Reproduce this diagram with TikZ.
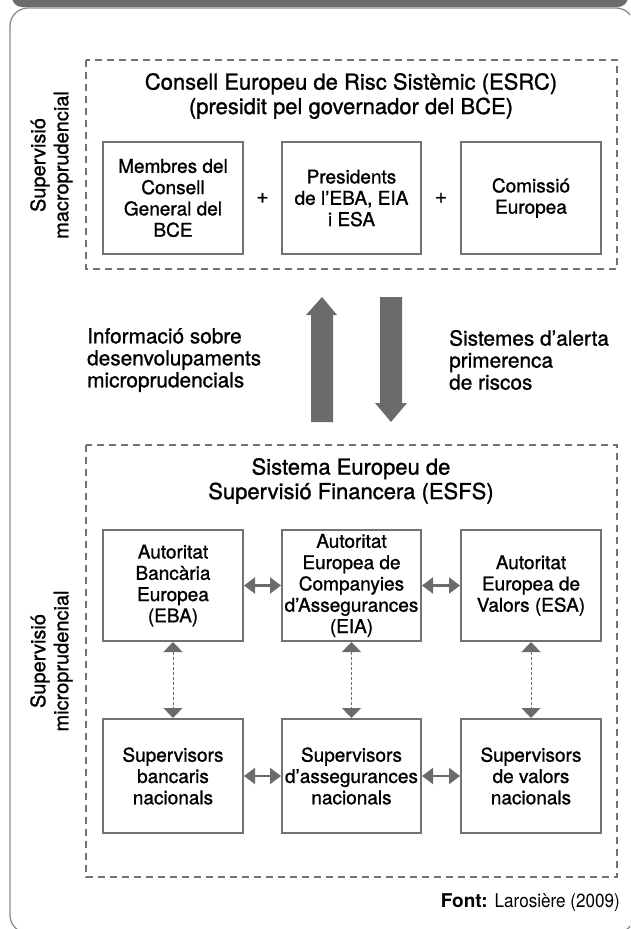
\documentclass[tikz,border=0pt]{standalone}
\usepackage{fontspec}
\setmainfont{TeX Gyre Heros}[FakeBold=1.1]
\newfontfamily\condfont[FakeStretch=0.9]{TeX Gyre Heros}
\newfontfamily\boldfont{TeX Gyre Heros Bold}
\usetikzlibrary{arrows.meta}
\definecolor{bandgray}{HTML}{6B6B6B}
\definecolor{linegray}{HTML}{727272}
\definecolor{framegray}{HTML}{8C8C8C}
\definecolor{arrowgray}{HTML}{6B6B6B}
\begin{document}
\begin{tikzpicture}[x=1pt,y=-1pt,
  box/.style={draw=linegray, line width=2pt, minimum width=140pt, align=center, inner sep=0pt,
    font=\fontsize{19}{21.3}\selectfont},
  dashbox/.style={draw=linegray, line width=2pt, dash pattern=on 7pt off 5pt},
  plainlabel/.style={inner sep=0pt, font=\fontsize{20.8}{22}\selectfont},
  titlelabel/.style={inner sep=0pt, align=center, font=\fontsize{22}{24.5}\selectfont},
  sidelabel/.style={inner sep=0pt, align=center, rotate=90, font=\fontsize{20}{23}\selectfont},
  harrow/.style={draw=arrowgray, line width=2.2pt, {Triangle[length=11pt,width=16pt]}-{Triangle[length=11pt,width=16pt]}},
  varrow/.style={draw=arrowgray, line width=1pt, dash pattern=on 3pt off 2pt, {Triangle[length=10pt,width=19pt]}-{Triangle[length=10pt,width=19pt]}},
  bigarrow/.style={fill=arrowgray, draw=none}
]
\useasboundingbox (0,0) rectangle (630,929);
\clip (0,0) rectangle (630,929);
% top band and frame
\fill[bandgray, rounded corners=10pt] (12,-20) rectangle (628,7);
\draw[framegray, line width=1.3pt, rounded corners=18pt] (10,8) rectangle (634,933);
% dashed groups
\draw[dashbox] (86,60) rectangle (617,269);
\draw[dashbox] (86,445) rectangle (617,877);
% side labels
\node[sidelabel] (macro) at (51.5,165) {Supervisió\\macroprudencial};
\node[sidelabel] (micro) at (51.5,661) {Supervisió\\microprudencial};
% top title
\node[titlelabel] (esrc) at (351,96) {Consell Europeu de Risc Sistèmic (ESRC)\\(presidit pel governador del BCE)};
% top boxes
\node[box, minimum height=112pt] (m1) at (173,198) {Membres del\\Consell\\General del\\BCE};
\node[box, minimum height=112pt, minimum width=139pt] (m2) at (351.5,198) {Presidents\\de l’EBA, EIA\\i ESA};
\node[box, minimum height=112pt] (m3) at (531,198) {Comissió\\Europea};
\node[plainlabel] (p1) at (262.5,198) {+};
\node[plainlabel] (p2) at (441,198) {+};
% big arrows
\coordinate (uptip) at (322,297);
\coordinate (dntip) at (391,422);
\fill[bigarrow] (uptip) -- (337,315) -- (333,315) -- (333,422) -- (311,422) -- (311,315) -- (306,315) -- cycle;
\fill[bigarrow] (dntip) -- (407,403) -- (402,403) -- (402,297) -- (380,297) -- (380,403) -- (375,403) -- cycle;
% side texts
\node[plainlabel, anchor=west, align=left] (info) at (87,360) {Informació sobre\\desenvolupaments\\microprudencials};
\node[plainlabel, anchor=west, align=left] (alert) at (449,360) {Sistemes d’alerta\\primerenca\\de riscos};
% bottom title
\node[titlelabel] (esfs) at (351,481) {Sistema Europeu de\\Supervisió Financera (ESFS)};
% authorities
\node[box, minimum height=111pt] (a1) at (173,585.5) {Autoritat\\Bancària\\Europea\\(EBA)};
\node[box, minimum height=111pt, minimum width=139pt] (a2) at (351.5,585.5) {Autoritat\\Europea de\\Companyies\\d’Assegurances\\(EIA)};
\node[box, minimum height=111pt] (a3) at (531,585.5) {Autoritat\\Europea de\\Valors (ESA)};
% national supervisors
\node[box, minimum height=114pt] (s1) at (173,776) {Supervisors\\bancaris\\nacionals};
\node[box, minimum height=114pt, minimum width=139pt] (s2) at (351.5,776) {Supervisors\\d’assegurances\\nacionals};
\node[box, minimum height=114pt] (s3) at (531,776) {Supervisors\\de valors\\nacionals};
% connectors
\draw[harrow] (a1.east) -- (a2.west);
\draw[harrow] (a2.east) -- (a3.west);
\draw[harrow] (s1.east) -- (s2.west);
\draw[harrow] (s2.east) -- (s3.west);
\draw[varrow] (a1.south) -- (s1.north);
\draw[varrow] (a2.south) -- (s2.north);
\draw[varrow] (a3.south) -- (s3.north);
% source
\node[inner sep=0pt, anchor=east, font=\fontsize{19}{21}\selectfont] (src) at (620,903) {{\boldfont Font:} {\condfont Larosière (2009)}};
\end{tikzpicture}
\end{document}
